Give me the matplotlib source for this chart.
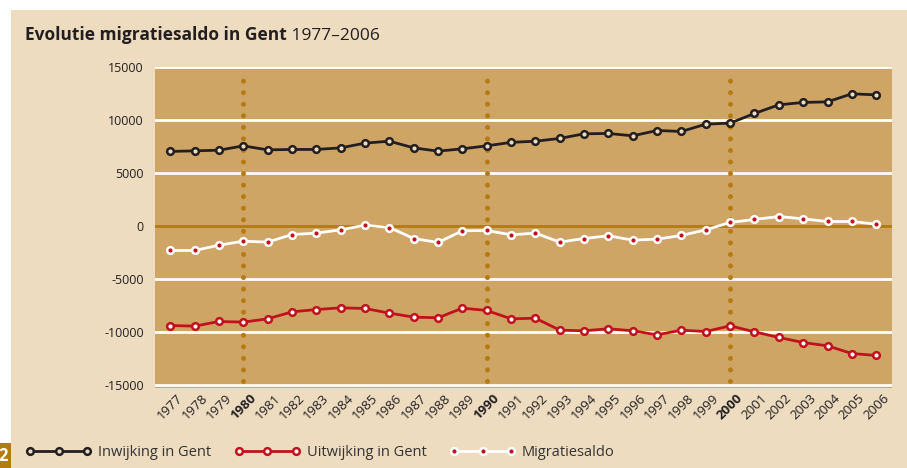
import matplotlib
matplotlib.use("Agg")
import matplotlib.pyplot as plt
from matplotlib.patches import Rectangle

plt.rcParams['font.family'] = ['Open Sans', 'DejaVu Sans']

years = list(range(1977, 2007))
inwijking = [7060, 7120, 7180, 7590, 7210, 7250, 7250, 7400, 7850, 8030,
             7400, 7090, 7310, 7590, 7920, 8030, 8290, 8730, 8760, 8540,
             9040, 8950, 9640, 9740, 10650, 11470, 11690, 11750, 12510, 12410]
uitwijking = [-9390, -9450, -9010, -9070, -8760, -8100, -7880, -7720, -7780, -8220,
              -8600, -8660, -7750, -7970, -8760, -8700, -9830, -9890, -9700, -9890,
              -10270, -9830, -9960, -9420, -9990, -10520, -11000, -11310, -12040, -12220]
saldo = [-2300, -2300, -1800, -1420, -1510, -790, -660, -350, 90, -130,
         -1170, -1540, -440, -410, -820, -660, -1510, -1170, -910, -1320,
         -1230, -880, -350, 350, 630, 910, 690, 440, 440, 190]
decades = [1980, 1990, 2000]
yticks = [-15000, -10000, -5000, 0, 5000, 10000, 15000]
labels = ["Inwijking in Gent", "Uitwijking in Gent", "Migratiesaldo"]

BEIGE = "#EDDCC0"
TAN = "#CFA566"
GOLD = "#B47B12"
DARK = "#231F20"
RED = "#C1121C"

fig = plt.figure(figsize=(9.07, 4.68), dpi=100, facecolor="white")
fig.add_artist(Rectangle((11 / 907, 0), 1, (468 - 10) / 468, transform=fig.transFigure,
                         facecolor=BEIGE, edgecolor="none", zorder=-10))
fig.add_artist(Rectangle((0, 0), 11 / 907, 25 / 468, transform=fig.transFigure,
                         facecolor=GOLD, edgecolor="none", zorder=-5))
fig.text(3 / 907, 12 / 468, "2", color="white", fontsize=12, fontweight="bold",
         ha="center", va="center")

ax = fig.add_axes([155 / 907, (468 - 387.5) / 468, 737 / 907, 321 / 468])
ax.set_facecolor(TAN)
for s in ax.spines.values():
    s.set_visible(False)

ax.set_xlim(1976.37, 2006.65)
ax.set_ylim(-15250, 15090)

for v in yticks:
    if v == 0:
        ax.axhline(v, color=GOLD, lw=2, zorder=1)
    else:
        ax.axhline(v, color="white", lw=2, zorder=1)
for d in decades:
    ax.axvline(d, ymin=0.02, ymax=0.985, color=GOLD, lw=3.6,
               linestyle=(0, (0.01, 2.3)), dash_capstyle="round", zorder=1)

l1, = ax.plot(years, inwijking, color=DARK, lw=2, marker="o", ms=4.8,
              mfc=BEIGE, mec=DARK, mew=1.8, zorder=3)
l2, = ax.plot(years, uitwijking, color=RED, lw=2, marker="o", ms=4.8,
              mfc="white", mec=RED, mew=1.8, zorder=3)
l3, = ax.plot(years, saldo, color="white", lw=2, marker="o", ms=4.8,
              mfc=RED, mec="white", mew=1.8, zorder=3)

ax.set_yticks(yticks)
ax.set_yticklabels([str(v) for v in yticks], fontsize=9, color=DARK)
ax.set_xticks(years)
ax.set_xticklabels([str(y) for y in years], rotation=45, ha="center", va="top",
                   fontsize=9.5, color=DARK)
for lab, y in zip(ax.get_xticklabels(), years):
    if y in decades:
        lab.set_fontweight("bold")
ax.tick_params(axis="both", length=0)
ax.tick_params(axis="y", pad=8)
ax.tick_params(axis="x", pad=3)

t1 = fig.text(25 / 907, (468 - 40) / 468, "Evolutie migratiesaldo in Gent",
              fontsize=12.5, fontweight="bold", color=DARK, va="baseline")
fig.canvas.draw()
ax.annotate(" 1977\u20132006", xy=(1, 0), xycoords=t1, fontsize=12.5,
            color=DARK, va="bottom", ha="left", annotation_clip=False)

fig.legend([l1, l2, l3], labels, loc="center left",
           bbox_to_anchor=(26 / 907, 15 / 468), bbox_transform=fig.transFigure,
           ncol=3, frameon=False, fontsize=10.5, numpoints=3, handlelength=4.5,
           handletextpad=0.45, columnspacing=1.6, borderpad=0, borderaxespad=0,
           labelcolor="#333333")

fig.savefig("out.png", dpi=100, facecolor="white")
